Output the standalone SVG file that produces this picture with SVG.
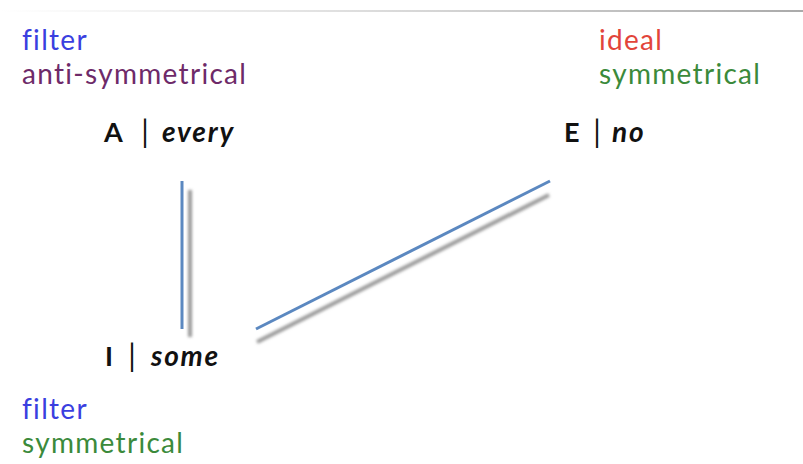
<svg xmlns="http://www.w3.org/2000/svg" width="803" height="464" viewBox="0 0 803 464">
<style>
text{font-family:Lato,"Open Sans","Liberation Sans",sans-serif;font-size:28px;letter-spacing:1.3px}
.blue{fill:#3a3fe0}.purple{fill:#6e2a69}.red{fill:#e2443a}.green{fill:#3b8a3b}
.lbl{fill:#111;font-weight:bold;font-size:27px;letter-spacing:1px}
.it{font-style:italic;font-size:28px;letter-spacing:1.8px}
.bar{font-weight:normal;fill:#111;font-size:30px;letter-spacing:0}
.edge{stroke:#5b88c0;stroke-width:3;stroke-linecap:butt;fill:none}
.shadow{stroke:#999;stroke-width:4;fill:none;filter:url(#blur)}
</style>
<defs>
<linearGradient id="topg" x1="0" x2="1" y1="0" y2="0">
<stop offset="0" stop-color="#bbb" stop-opacity="0"/>
<stop offset="1" stop-color="#aaa" stop-opacity="1"/>
</linearGradient>
<filter id="blur" filterUnits="userSpaceOnUse" x="0" y="0" width="803" height="464"><feGaussianBlur stdDeviation="1.8"/></filter>
</defs>
<rect x="0" y="10" width="803" height="2" fill="url(#topg)"/>
<g id="connectors">
<line class="shadow" x1="190" y1="190" x2="190" y2="337"/>
<line class="shadow" x1="257" y1="342" x2="549" y2="195"/>
<line class="edge" x1="182" y1="181" x2="182" y2="329"/>
<line class="edge" x1="256" y1="329" x2="550" y2="181"/>
</g>
<g id="A">
<text x="22" y="50" class="blue">filter</text>
<text x="22" y="84" class="purple">anti-symmetrical</text>
<text x="104" y="142" class="lbl">A</text>
<text x="145" y="143" class="bar" text-anchor="middle">|</text>
<text x="162" y="142" class="lbl it">every</text>
</g>
<g id="E">
<text x="599" y="50" class="red">ideal</text>
<text x="599" y="84" class="green">symmetrical</text>
<text x="564" y="142" class="lbl">E</text>
<text x="597" y="143" class="bar" text-anchor="middle">|</text>
<text x="612" y="142" class="lbl it">no</text>
</g>
<g id="I">
<text x="105" y="366" class="lbl">I</text>
<text x="132" y="367" class="bar" text-anchor="middle">|</text>
<text x="151" y="366" class="lbl it">some</text>
<text x="22" y="419" class="blue">filter</text>
<text x="22" y="453" class="green">symmetrical</text>
</g>
</svg>
